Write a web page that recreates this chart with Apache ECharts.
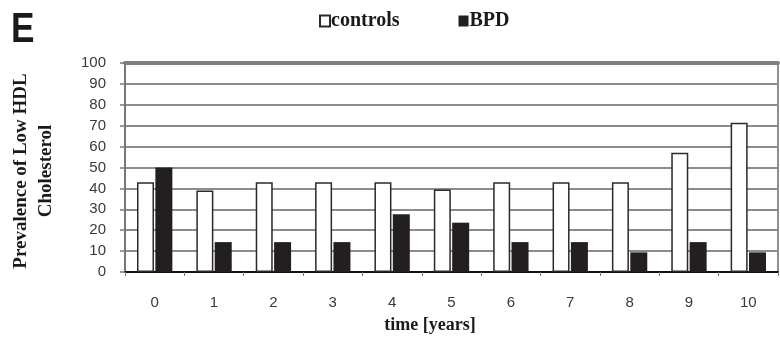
<!DOCTYPE html>
<html>
<head>
<meta charset="utf-8">
<script src="https://cdn.jsdelivr.net/npm/echarts@6/dist/echarts.min.js"></script>
<style>
  html, body { margin: 0; padding: 0; background: #fff; }
  #chart { width: 780px; height: 338px; }
</style>
</head>
<body>
<div id="chart"></div>
<script>
// Prevalence of low HDL cholesterol (%) per follow-up year
const years = ['0', '1', '2', '3', '4', '5', '6', '7', '8', '9', '10'];
const controls = [42.9, 39, 42.9, 42.9, 42.9, 39.5, 42.9, 42.9, 42.9, 57.1, 71.4];
const bpd = [50, 14.3, 14.3, 14.3, 27.6, 23.6, 14.3, 14.3, 9.4, 14.3, 9.4];
const yTicks = { min: 0, max: 100, step: 10 };

const serifBold = { fontFamily: '"Liberation Serif", "DejaVu Serif", serif', fontWeight: 'bold', color: '#1a1a1a' };
const tickFont = { fontFamily: '"Liberation Sans", Arial, sans-serif', fontSize: 15, color: '#3a3a3a' };

const chart = echarts.init(document.getElementById('chart'), null, { renderer: 'canvas' });

chart.setOption({
  animation: false,
  backgroundColor: '#fff',
  grid: {
    left: 125, right: 2, top: 63, bottom: 66,
    show: true, borderColor: '#8f8f8f', borderWidth: 2
  },
  legend: {
    left: 314, top: 6,
    itemWidth: 10, itemHeight: 11, itemGap: 59,
    icon: 'rect',
    textStyle: Object.assign({ fontSize: 20, padding: [0, 0, 0, -4] }, serifBold),
    data: ['controls', 'BPD']
  },
  xAxis: [{
    type: 'category',
    data: years,
    axisLine: { lineStyle: { color: '#111', width: 2 } },
    axisTick: { show: true, length: 4, lineStyle: { color: '#777', width: 1 } },
    axisLabel: Object.assign({ margin: 23 }, tickFont),
    splitLine: { show: false }
  }, {
    type: 'category',
    data: years,
    position: 'top',
    axisLine: { lineStyle: { color: '#808080', width: 4 } },
    axisTick: { show: false },
    axisLabel: { show: false }
  }],
  yAxis: {
    type: 'value',
    min: yTicks.min, max: yTicks.max, interval: yTicks.step,
    axisLine: { show: true, lineStyle: { color: '#777', width: 2 } },
    axisTick: { show: true, length: 5, lineStyle: { color: '#777', width: 1.5 } },
    axisLabel: Object.assign({ margin: 19 }, tickFont),
    splitLine: { lineStyle: { color: '#8c8c8c', width: 2 } }
  },
  series: [{
    name: 'controls',
    type: 'bar',
    data: controls,
    barWidth: 17,
    barGap: '8%',
    itemStyle: { color: '#fff', borderColor: '#2a2a2a', borderWidth: 1.5 }
  }, {
    name: 'BPD',
    type: 'bar',
    data: bpd,
    barWidth: 17,
    itemStyle: { color: '#231f20' }
  }],
  graphic: [{
    type: 'text',
    x: 11, y: 9,
    scaleX: 0.88, scaleY: 1.05,
    style: { text: 'E', font: 'bold 40px "Liberation Sans", Arial, sans-serif', fill: '#1a1a1a' }
  }, {
    type: 'text',
    x: 34, y: 171,
    rotation: Math.PI / 2,
    style: {
      text: 'Prevalence of Low HDL\nCholesterol',
      font: 'bold 19px "Liberation Serif", "DejaVu Serif", serif',
      fill: '#1a1a1a',
      align: 'center', verticalAlign: 'middle',
      lineHeight: 25
    }
  }, {
    type: 'text',
    x: 430, y: 325,
    style: {
      text: 'time [years]',
      font: 'bold 18px "Liberation Serif", "DejaVu Serif", serif',
      fill: '#1a1a1a',
      align: 'center', verticalAlign: 'middle'
    }
  }]
});
</script>
</body>
</html>
